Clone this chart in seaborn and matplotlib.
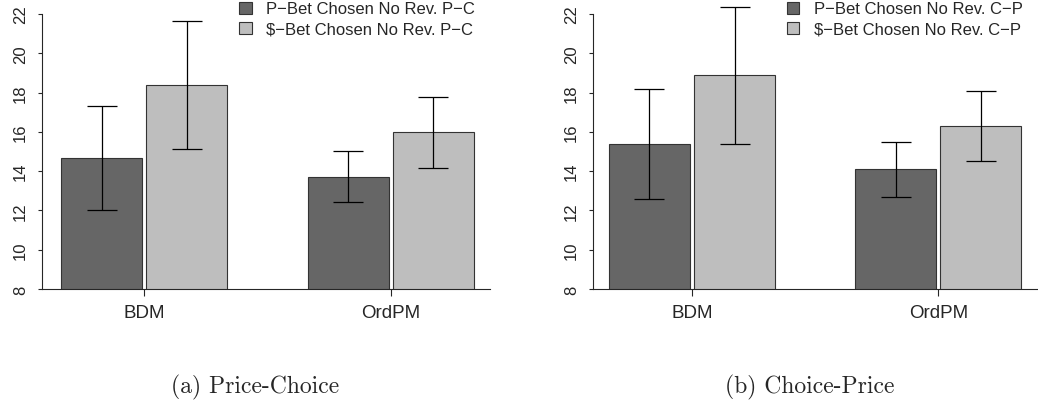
import pandas as pd
import seaborn as sns
import matplotlib.pyplot as plt

sns.set_style("ticks")
plt.rcParams["font.family"] = ["Liberation Sans", "DejaVu Sans"]

methods = ["BDM", "OrdPM"]

# (a) Price-Choice
pc_labels = ["P\u2212Bet Chosen No Rev. P\u2212C", "$\u2212Bet Chosen No Rev. P\u2212C"]
pc_p_mean = [14.65, 13.70]
pc_p_lo = [12.00, 12.41]
pc_p_hi = [17.32, 15.01]
pc_d_mean = [18.39, 15.99]
pc_d_lo = [15.11, 14.16]
pc_d_hi = [21.64, 17.79]

# (b) Choice-Price
cp_labels = ["P\u2212Bet Chosen No Rev. C\u2212P", "$\u2212Bet Chosen No Rev. C\u2212P"]
cp_p_mean = [15.36, 14.09]
cp_p_lo = [12.56, 12.70]
cp_p_hi = [18.17, 15.48]
cp_d_mean = [18.88, 16.30]
cp_d_lo = [15.40, 14.53]
cp_d_hi = [22.36, 18.08]

captions = ["(a) Price-Choice", "(b) Choice-Price"]

W, H = 1038, 410
fig = plt.figure(figsize=(W / 100, H / 100), dpi=100)


def px_axes(x0, x1, y_top, y_bot):
    return fig.add_axes([x0 / W, 1 - y_bot / H, (x1 - x0) / W, (y_bot - y_top) / H])


def make_panel(ax, labels, p_mean, p_lo, p_hi, d_mean, d_lo, d_hi, xlim, leg_x):
    df = pd.DataFrame({
        "method": methods * 2,
        "value": p_mean + d_mean,
        "series": [labels[0]] * 2 + [labels[1]] * 2,
    })
    sns.barplot(data=df, x="method", y="value", hue="series",
                palette=["#666666", "#bebebe"], width=0.6925, gap=0.05,
                edgecolor="#333333", linewidth=0.8, saturation=1, ax=ax)
    lows = [p_lo, d_lo]
    highs = [p_hi, d_hi]
    means = [p_mean, d_mean]
    bar_conts = list(ax.containers)
    for i, cont in enumerate(bar_conts):
        for j, bar in enumerate(cont):
            xc = bar.get_x() + bar.get_width() / 2
            m = means[i][j]
            ax.errorbar(xc, m, yerr=[[m - lows[i][j]], [highs[i][j] - m]],
                        fmt="none", ecolor="black", elinewidth=0.9,
                        capsize=10.5, capthick=0.9, clip_on=False)
    ax.set_ylim(8, 22.6)
    ax.set_xlim(*xlim)
    ax.set_yticks(range(8, 23, 2))
    ax.set_yticklabels([str(v) for v in range(8, 23, 2)], rotation=90,
                       va="center", fontsize=12)
    ax.tick_params(axis="y", length=3, width=0.8, pad=7)
    ax.tick_params(axis="x", length=5, width=0.8, pad=6, labelsize=13.5)
    ax.set_xlabel("")
    ax.set_ylabel("")
    for s in ["top", "right"]:
        ax.spines[s].set_visible(False)
    ax.spines["left"].set_bounds(8, 22)
    ax.spines["left"].set_linewidth(0.8)
    ax.spines["bottom"].set_linewidth(0.8)
    handles, labs = ax.get_legend_handles_labels()
    ax.legend(handles, labs, loc="upper left",
              bbox_to_anchor=(leg_x / W, 1 - 2.5 / H), bbox_transform=fig.transFigure,
              frameon=False, fontsize=12, borderpad=0, borderaxespad=0,
              handlelength=0.75, handleheight=0.75, handletextpad=0.88,
              labelspacing=0.32)


ax1 = px_axes(41.7, 490, 3.2, 290)
make_panel(ax1, pc_labels, pc_p_mean, pc_p_lo, pc_p_hi, pc_d_mean, pc_d_lo, pc_d_hi,
           (-0.4164, 1.403), 239)

ax2 = px_axes(592.7, 1038, 3.2, 290)
make_panel(ax2, cp_labels, cp_p_mean, cp_p_lo, cp_p_hi, cp_d_mean, cp_d_lo, cp_d_hi,
           (-0.403, 1.405), 786.7)

fig.text(255 / W, 1 - 387 / H, captions[0], family="cmr10", fontsize=17,
         ha="center", va="center")
fig.text(810 / W, 1 - 387 / H, captions[1], family="cmr10", fontsize=17,
         ha="center", va="center")

fig.savefig("out.png", dpi=100)
